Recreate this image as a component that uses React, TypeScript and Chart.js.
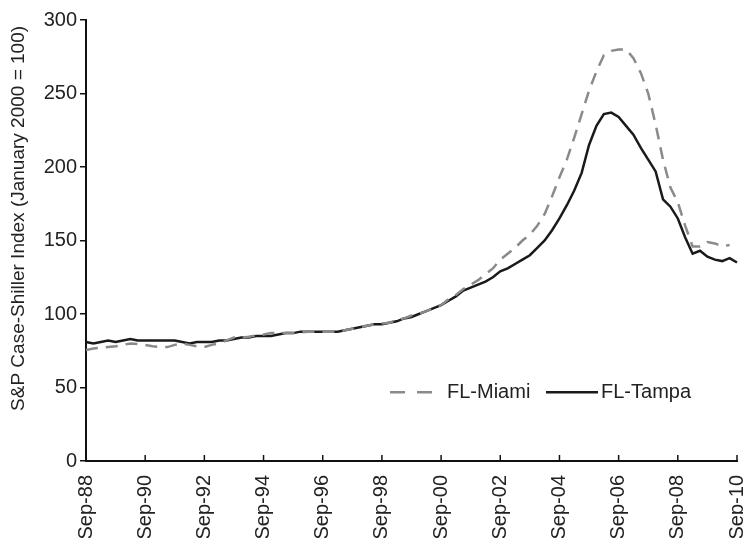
import React, { useEffect, useRef } from "react";
import { Chart, registerables } from "chart.js";

Chart.register(...registerables);

const MONTHS = ["Jan", "Feb", "Mar", "Apr", "May", "Jun", "Jul", "Aug", "Sep", "Oct", "Nov", "Dec"];

// Quarterly dates from Sep-88 to Sep-10
const quarterLabels: string[] = [];
for (let i = 0; i < 89; i++) {
  const m = 8 + 3 * i;
  const year = 1988 + Math.floor(m / 12);
  quarterLabels.push(`${MONTHS[m % 12]}-${String(year % 100).padStart(2, "0")}`);
}

const tampa: (number | null)[] = [
  81, 80, 81, 82, 81, 82, 83, 82, 82, 82, 82, 82, 82, 81, 80, 81, 81, 81, 82, 82,
  83, 84, 84, 85, 85, 85, 86, 87, 87, 88, 88, 88, 88, 88, 88, 89, 90, 91, 92, 93,
  93, 94, 95, 97, 98, 100, 102, 104, 106, 109, 112, 116, 118, 120, 122, 125, 129, 131, 134, 137,
  140, 145, 150, 157, 165, 174, 184, 196, 215, 228, 236, 237, 234, 228, 222, 213, 205, 197, 178, 173,
  165, 152, 141, 143, 139, 137, 136, 138, 135,
];

const miami: (number | null)[] = [
  75.5, 76.5, 77, 77.5, 78, 79, 80, 79.5, 79, 78, 77.5, 77.5, 79, 80, 79, 78, 77.5, 79, 80, 82,
  84, 84, 84.5, 85.5, 86, 87, 87, 87, 87, 87.5, 88, 88, 88, 88, 88, 89, 90, 91, 92, 93,
  93.5, 94, 96, 97, 99, 100, 102, 104, 106, 110, 113, 117, 120, 123, 127, 131, 137, 141, 145, 150,
  154, 160, 168, 180, 193, 205, 220, 236, 252, 265, 276, 279, 280, 280, 274, 264, 250, 229, 205, 186,
  176, 160, 146, 146, 149, 148, 146, 147, null,
];

const seriesNames = ["FL-Miami", "FL-Tampa"];
const yTitle = "S&P Case-Shiller Index (January 2000 = 100)";
const FONT = "'Liberation Sans', Arial, Helvetica, sans-serif";

const xTickPlugin = {
  id: "xInsideTicks",
  afterDraw(chart: any) {
    const { ctx, scales } = chart;
    const x = scales.x;
    const bottom = chart.chartArea.bottom;
    ctx.save();
    ctx.strokeStyle = "#111";
    ctx.lineWidth = 1.5;
    for (let i = 0; i < quarterLabels.length; i += 8) {
      const px = x.getPixelForValue(i);
      ctx.beginPath();
      ctx.moveTo(px, bottom);
      ctx.lineTo(px, bottom - 6);
      ctx.stroke();
    }
    ctx.restore();
  },
};

const yTitlePlugin = {
  id: "yTitle",
  afterDraw(chart: any) {
    const { ctx, chartArea } = chart;
    const cy = chartArea.top + (chartArea.bottom - chartArea.top) * 0.45;
    ctx.save();
    ctx.translate(24, cy);
    ctx.rotate(-Math.PI / 2);
    ctx.font = `19px ${FONT}`;
    ctx.fillStyle = "#222";
    ctx.textAlign = "center";
    ctx.textBaseline = "alphabetic";
    ctx.fillText(yTitle, 0, 0);
    ctx.restore();
  },
};

const legendPlugin = {
  id: "customLegend",
  afterDraw(chart: any) {
    const { ctx, chartArea } = chart;
    const y = chartArea.top + (chartArea.bottom - chartArea.top) * 0.844;
    const w = chartArea.right - chartArea.left;
    const x0 = chartArea.left + w * 0.467;
    ctx.save();
    ctx.font = `20px ${FONT}`;
    ctx.textBaseline = "middle";
    ctx.fillStyle = "#222";
    // Miami (dashed)
    const dsM = chart.data.datasets[0];
    ctx.strokeStyle = dsM.borderColor;
    ctx.lineWidth = dsM.borderWidth;
    ctx.setLineDash([15, 12]);
    ctx.beginPath();
    ctx.moveTo(x0, y);
    ctx.lineTo(x0 + 42, y);
    ctx.stroke();
    ctx.setLineDash([]);
    ctx.fillText(dsM.label, x0 + 57, y);
    // Tampa (solid)
    const dsT = chart.data.datasets[1];
    const x1 = x0 + 156;
    ctx.strokeStyle = dsT.borderColor;
    ctx.lineWidth = dsT.borderWidth;
    ctx.beginPath();
    ctx.moveTo(x1, y);
    ctx.lineTo(x1 + 52, y);
    ctx.stroke();
    ctx.fillText(dsT.label, x1 + 55, y);
    ctx.restore();
  },
};

export default function App() {
  const ref = useRef<HTMLCanvasElement | null>(null);

  useEffect(() => {
    document.body.style.margin = "0";
    const canvas = ref.current;
    if (!canvas) return;
    const chart = new Chart(canvas, {
      type: "line",
      data: {
        labels: quarterLabels,
        datasets: [
          {
            label: seriesNames[0],
            data: miami,
            borderColor: "#8a8a8a",
            borderWidth: 2.5,
            borderDash: [12, 8],
            pointRadius: 0,
            tension: 0,
            fill: false,
          },
          {
            label: seriesNames[1],
            data: tampa,
            borderColor: "#1a1a1a",
            borderWidth: 2.5,
            pointRadius: 0,
            tension: 0,
            fill: false,
          },
        ],
      },
      options: {
        responsive: false,
        animation: false,
        layout: { padding: { top: 20, right: 6, left: 0, bottom: 0 } },
        plugins: {
          legend: { display: false },
          tooltip: { enabled: false },
        },
        scales: {
          x: {
            type: "category",
            offset: false,
            grid: { display: false },
            border: { display: true, color: "#111", width: 2 },
            ticks: {
              autoSkip: false,
              maxRotation: 90,
              minRotation: 90,
              padding: 6,
              color: "#222",
              font: { family: FONT, size: 20 },
              callback: (_v: any, i: number) => (i % 8 === 0 ? quarterLabels[i] : null),
            },
            afterFit: (scale: any) => {
              scale.height = 77;
              scale.paddingLeft = 0;
              scale.paddingRight = 0;
            },
          },
          y: {
            min: 0,
            max: 300,
            grid: {
              display: true,
              drawOnChartArea: false,
              drawTicks: true,
              tickLength: 6,
              color: "#111",
              lineWidth: 1.5,
            },
            border: { display: true, color: "#111", width: 2 },
            ticks: {
              stepSize: 50,
              padding: 3,
              color: "#222",
              font: { family: FONT, size: 20 },
            },
            title: { display: false },
            afterFit: (scale: any) => {
              scale.width = 86;
              scale.paddingTop = 0;
              scale.paddingBottom = 0;
            },
          },
        },
      },
      plugins: [xTickPlugin, yTitlePlugin, legendPlugin],
    });
    return () => chart.destroy();
  }, []);

  return (
    <div style={{ width: 743, height: 538, background: "#fff" }}>
      <canvas ref={ref} width={743} height={538} style={{ display: "block" }} />
    </div>
  );
}
